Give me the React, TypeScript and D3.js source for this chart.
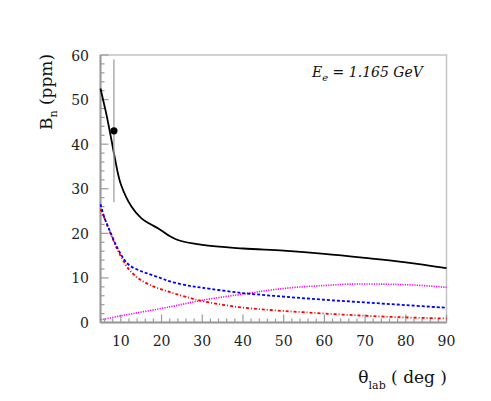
import React, { useEffect, useRef } from 'react';
import * as d3 from 'd3';

// angle grid (deg) shared by the curves
const totalTheta = [5, 6, 6.4, 7.7, 8.5, 10, 12.6, 15, 17, 19.2, 21.6, 24, 30, 40, 50, 60, 70, 80, 90];
const totalBn = [52.5, 48.5, 46.9, 40.9, 37.0, 31.0, 26.0, 23.4, 22.2, 21.1, 19.6, 18.5, 17.4, 16.6, 16.1, 15.4, 14.5, 13.5, 12.2];

const blueTheta = [5, 6, 7, 8, 9, 10, 11, 12.3, 15, 17.2, 20, 22.1, 27, 30, 40, 50, 60, 70, 80, 90];
const blueBn = [26.5, 23.4, 21.2, 19.0, 17.0, 15.3, 13.9, 12.7, 11.5, 10.8, 9.9, 9.2, 8.2, 7.8, 6.6, 5.8, 5.1, 4.5, 3.9, 3.3];

const redTheta = [5, 5.7, 7.8, 9.4, 11.5, 12.3, 14, 17.2, 22.1, 27, 29.5, 38.5, 46.7, 55, 66, 78, 90];
const redBn = [25.4, 24.0, 19.2, 15.9, 12.5, 11.6, 10.1, 8.4, 6.8, 5.5, 4.9, 3.5, 2.8, 2.3, 1.7, 1.2, 0.9];

const magentaTheta = [5, 10, 22, 30, 41, 47, 53, 60, 66, 75, 82, 90];
const magentaBn = [0.6, 1.5, 3.5, 5.0, 6.5, 7.3, 7.9, 8.3, 8.6, 8.6, 8.4, 7.9];

const dataTheta = [8.3];
const dataBn = [43.0];
const dataErr = [16.0];

const xTicks = [10, 20, 30, 40, 50, 60, 70, 80, 90];
const yTicks = [0, 10, 20, 30, 40, 50, 60];

const App = () => {
  const ref = useRef<SVGSVGElement | null>(null);

  useEffect(() => {
    const svg = d3.select(ref.current);
    svg.selectAll('*').remove();

    const left = 100.5, right = 446.5, top = 55, bottom = 322.5;
    const x = d3.scaleLinear().domain([5, 90]).range([left, right]);
    const y = d3.scaleLinear().domain([0, 60]).range([bottom, top]);
    const frame = '#9a9a9a';
    const font = 'DejaVu Serif';

    // frame
    svg.append('rect')
      .attr('x', left).attr('y', top)
      .attr('width', right - left).attr('height', bottom - top)
      .attr('fill', 'none').attr('stroke', '#c4c4c4').attr('stroke-width', 1.5);
    svg.append('line').attr('x1', left).attr('x2', left).attr('y1', top).attr('y2', bottom)
      .attr('stroke', frame).attr('stroke-width', 2);
    svg.append('line').attr('x1', left).attr('x2', right).attr('y1', bottom).attr('y2', bottom)
      .attr('stroke', frame).attr('stroke-width', 2);

    // ticks (inside, ROOT style)
    const g = svg.append('g').attr('stroke', frame).attr('stroke-width', 1.2);
    d3.range(6, 91, 2).forEach(v => {
      const major = v % 10 === 0;
      g.append('line').attr('x1', x(v)).attr('x2', x(v))
        .attr('y1', bottom).attr('y2', bottom - (major ? 8 : 4));
    });
    d3.range(0, 61, 2).forEach(v => {
      const major = v % 10 === 0;
      g.append('line').attr('x1', left).attr('x2', left + (major ? 8 : 4))
        .attr('y1', y(v)).attr('y2', y(v));
    });

    svg.append('g').selectAll('text').data(xTicks).enter().append('text')
      .attr('x', d => x(d)).attr('y', 346)
      .attr('text-anchor', 'middle')
      .attr('font-family', font).attr('font-size', 14).attr('fill', '#222')
      .text(d => d);
    svg.append('g').selectAll('text').data(yTicks).enter().append('text')
      .attr('x', 89).attr('y', d => y(d) + 5.5)
      .attr('text-anchor', 'end')
      .attr('font-family', font).attr('font-size', 14).attr('fill', '#222')
      .text(d => d);

    // curves
    const line = d3.line<[number, number]>()
      .x(d => x(d[0])).y(d => y(d[1]))
      .curve(d3.curveCatmullRom.alpha(0.5));
    const zip = (a: number[], b: number[]) => a.map((v, i) => [v, b[i]] as [number, number]);

    const curves = [
      { pts: zip(magentaTheta, magentaBn), color: '#ff00ff', dash: '1.2,1.2', w: 1.6 },
      { pts: zip(redTheta, redBn), color: '#ff0000', dash: '3,2,1,2', w: 1.8 },
      { pts: zip(blueTheta, blueBn), color: '#0000ff', dash: '3,2', w: 1.8 },
      { pts: zip(totalTheta, totalBn), color: '#000000', dash: null, w: 1.8 },
    ];
    curves.forEach(c => {
      svg.append('path').datum(c.pts)
        .attr('fill', 'none').attr('stroke', c.color)
        .attr('stroke-width', c.w)
        .attr('stroke-dasharray', c.dash)
        .attr('d', line);
    });

    // data point with error bar
    dataTheta.forEach((t, i) => {
      svg.append('line').attr('x1', x(t)).attr('x2', x(t))
        .attr('y1', y(dataBn[i] + dataErr[i])).attr('y2', y(dataBn[i] - dataErr[i]))
        .attr('stroke', '#a0a0a0').attr('stroke-width', 1.3);
      svg.append('circle').attr('cx', x(t)).attr('cy', y(dataBn[i])).attr('r', 3.6).attr('fill', '#000');
    });

    // annotation
    const ann = svg.append('text').attr('x', 312).attr('y', 77)
      .attr('font-family', font).attr('font-size', 14).attr('font-style', 'italic').attr('fill', '#111');
    ann.append('tspan').text('E');
    ann.append('tspan').attr('font-size', 10).attr('dy', 4).text('e');
    ann.append('tspan').attr('dy', -4).text(' = 1.165 GeV');

    // axis titles
    const xt = svg.append('text').attr('x', 447).attr('y', 383)
      .attr('text-anchor', 'end')
      .attr('font-family', font).attr('font-size', 17).attr('fill', '#111');
    xt.append('tspan').text('θ');
    xt.append('tspan').attr('font-size', 11).attr('dy', 6).text('lab');
    xt.append('tspan').attr('dy', -6).text(' ( deg )');

    const yt = svg.append('text')
      .attr('transform', `translate(52,${92}) rotate(-90)`)
      .attr('text-anchor', 'middle')
      .attr('font-family', font).attr('font-size', 17).attr('fill', '#111');
    yt.append('tspan').text('B');
    yt.append('tspan').attr('font-size', 11).attr('dy', 5).text('n');
    yt.append('tspan').attr('dy', -5).text(' (ppm)');
  }, []);

  return (
    <svg ref={ref} width={491} height={401}
      style={{ position: 'absolute', left: 0, top: 0, background: '#fff' }} />
  );
};

export default App;
